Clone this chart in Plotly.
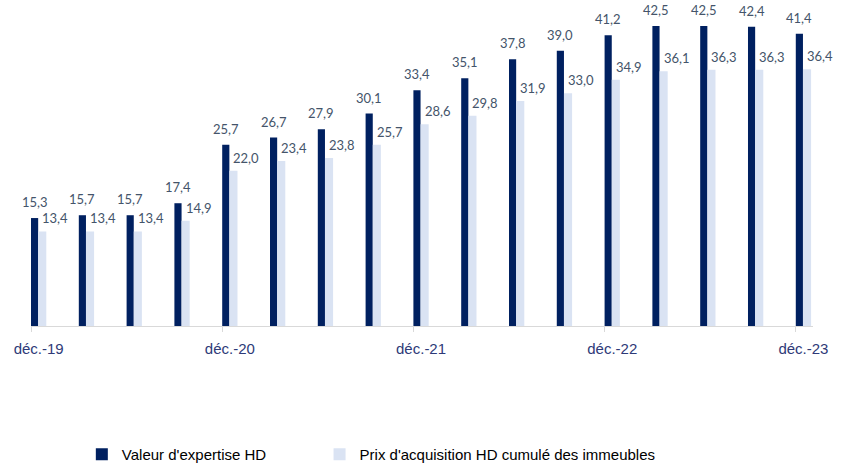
import plotly.graph_objects as go

# Quarterly periods, déc.-19 to déc.-23
periods = ["déc.-19", "mars-20", "juin-20", "sept.-20", "déc.-20", "mars-21", "juin-21", "sept.-21",
           "déc.-21", "mars-22", "juin-22", "sept.-22", "déc.-22", "mars-23", "juin-23", "sept.-23", "déc.-23"]
valeur_expertise = [15.3, 15.7, 15.7, 17.4, 25.7, 26.7, 27.9, 30.1, 33.4, 35.1, 37.8, 39.0, 41.2, 42.5, 42.5, 42.4, 41.4]
prix_acquisition = [13.4, 13.4, 13.4, 14.9, 22.0, 23.4, 23.8, 25.7, 28.6, 29.8, 31.9, 33.0, 34.9, 36.1, 36.3, 36.3, 36.4]
tick_labels = ["déc.-19", "déc.-20", "déc.-21", "déc.-22", "déc.-23"]

NAVY = "#002060"
LIGHT = "#DAE3F3"
LABEL = "#44546A"
AXIS_TXT = "#2E3A78"
LABEL_FONT = dict(family="Lato, Noto Sans, sans-serif", size=13, color=LABEL)
LEGEND_FONT = dict(family="Liberation Sans, Arial, sans-serif", size=15, color="#000000")

idx = list(range(len(periods)))
w_dark = 0.15
w_light = 0.17


def fr(v):
    return f"{v:.1f}".replace(".", ",")


fig = go.Figure()
fig.add_trace(go.Bar(
    x=idx, y=valeur_expertise, name="Valeur d'expertise HD",
    marker=dict(color=NAVY, line=dict(width=0)),
    offset=0, width=w_dark, hoverinfo="skip", legend="legend",
))
fig.add_trace(go.Bar(
    x=idx, y=prix_acquisition, name="Prix d'acquisition HD cumulé des immeubles",
    marker=dict(color=LIGHT, line=dict(width=0)),
    offset=w_dark, width=w_light, hoverinfo="skip", legend="legend2",
))

# value labels: navy series above its bar, light series up and to the right
for i, v in zip(idx, valeur_expertise):
    fig.add_annotation(
        x=i + w_dark / 2, y=v, text=fr(v), showarrow=False,
        xanchor="center", yanchor="bottom", yshift=6, font=LABEL_FONT,
    )
for i, v in zip(idx, prix_acquisition):
    fig.add_annotation(
        x=i + w_dark, y=v, text=fr(v), showarrow=False,
        xanchor="left", yanchor="middle", xshift=2, yshift=13, font=LABEL_FONT,
    )

fig.update_layout(
    width=848, height=466,
    margin=dict(l=31, r=35, t=0, b=140, autoexpand=False),
    paper_bgcolor="white", plot_bgcolor="white",
    barmode="overlay",
    showlegend=True,
    legend=dict(orientation="h", x=0.065, xanchor="left", y=-0.394, yanchor="middle",
                font=LEGEND_FONT, itemwidth=30),
    legend2=dict(orientation="h", x=0.369, xanchor="left", y=-0.394, yanchor="middle",
                 font=LEGEND_FONT, itemwidth=30),
    font=dict(family="Liberation Sans, Arial, sans-serif"),
)

fig.update_xaxes(
    range=[0, 16.36],
    tickmode="array",
    tickvals=[i + (w_dark + w_light) / 2 for i in range(0, len(periods), 4)],
    ticktext=tick_labels,
    ticks="", showgrid=False, zeroline=False,
    showline=True, linecolor="#D9D9D9", linewidth=1,
    tickfont=dict(family="Liberation Sans, Arial, sans-serif", size=15, color=AXIS_TXT),
    ticklabelstandoff=9,
    minor=dict(tickmode="array", tickvals=list(range(0, len(periods), 4)),
               ticks="outside", ticklen=5, tickcolor="#D9D9D9", showgrid=False),
)
fig.update_yaxes(range=[0, 46.2], visible=False, showgrid=False, zeroline=False)

fig.write_html("out.html")
